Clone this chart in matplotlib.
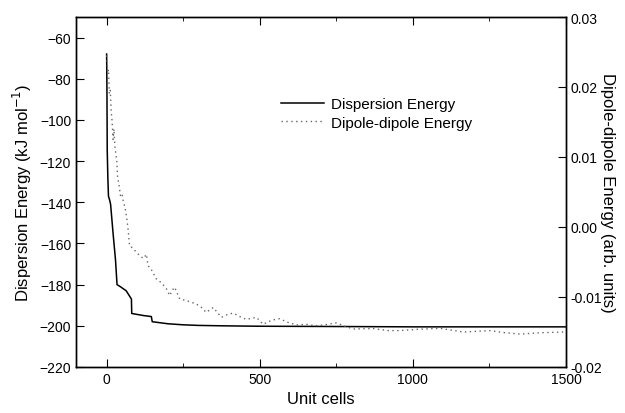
import numpy as np
import matplotlib
matplotlib.use("Agg")
import matplotlib.pyplot as plt
from matplotlib.ticker import MultipleLocator

plt.rcParams["font.family"] = ["Liberation Sans", "DejaVu Sans"]

# ── data ────────────────────────────────────────────────────────────────────
disp_cells = [0, 1, 2, 4, 6, 10, 13, 21, 29, 34, 45, 64, 81, 82, 120, 146,
              149, 200, 249, 300, 380, 500, 700, 1000, 1500]
disp_energy = [-68, -85, -115, -128, -137, -139, -141, -155, -168, -180, -181,
               -183, -187, -194, -195, -195.5, -198, -199, -199.5, -199.8,
               -200, -200.2, -200.3, -200.5, -200.5]

dip_cells = [0, 3, 6, 9, 12, 15, 18, 21, 24, 27, 30, 33, 36, 40, 45, 50, 55,
             60, 65, 70, 75, 85, 95, 108, 120, 130, 135, 145, 162, 180, 195,
             206, 215, 222, 239, 260, 293, 310, 325, 348, 375, 395, 413, 435,
             456, 489, 511, 540, 565, 590, 620, 652, 680, 707, 750, 780, 805,
             870, 920, 957, 1020, 1088, 1164, 1210, 1252, 1300, 1350, 1420,
             1497]
dip_energy = [0.0245, 0.022, 0.0225, 0.019, 0.0195, 0.0165, 0.0150, 0.0125,
              0.014, 0.0115, 0.0105, 0.0095, 0.0070, 0.0062, 0.0045, 0.0048,
              0.0035, 0.0028, 0.0015, -0.0003, -0.0027, -0.0030, -0.0035,
              -0.0041, -0.0045, -0.0039, -0.0055, -0.006, -0.0074, -0.008,
              -0.0088, -0.0098, -0.009, -0.0086, -0.0103, -0.0105, -0.011,
              -0.0115, -0.0122, -0.0115, -0.0129, -0.0125, -0.0123, -0.0128,
              -0.0132, -0.0129, -0.0139, -0.0133, -0.0131, -0.0136, -0.014,
              -0.0139, -0.0141, -0.014, -0.0137, -0.0142, -0.01457, -0.0145,
              -0.0148, -0.0148, -0.0146, -0.01447, -0.015, -0.0149, -0.0148,
              -0.0151, -0.0153, -0.0151, -0.015]

fig = plt.figure(figsize=(6.25, 4.14), dpi=100)
ax = fig.add_axes([76 / 625, 46 / 414, 490 / 625, 350 / 414])
ax2 = ax.twinx()

l1, = ax.plot(disp_cells, disp_energy, color="black", linewidth=1.1,
              label="Dispersion Energy")
l2, = ax2.plot(dip_cells, dip_energy, color="#666666", linewidth=1.0,
               linestyle=(0, (1, 2.5)), label="Dipole-dipole Energy")

ax.set_xlim(-100, 1500)
ax.set_ylim(-220, -50)
ax2.set_ylim(-0.02, 0.03)

ax.xaxis.set_major_locator(MultipleLocator(500))
ax.xaxis.set_minor_locator(MultipleLocator(250))
ax.yaxis.set_major_locator(MultipleLocator(20))
ax2.yaxis.set_major_locator(MultipleLocator(0.01))
ax2.yaxis.set_major_formatter(matplotlib.ticker.FormatStrFormatter("%.2f"))

ax.tick_params(axis="x", which="both", direction="in", top=True, labelsize=10)
ax.tick_params(axis="x", which="major", length=6)
ax.tick_params(axis="x", which="minor", length=3)
ax.tick_params(axis="y", direction="in", length=6, labelsize=10)
ax2.tick_params(axis="y", direction="in", length=6, labelsize=10)

for a in (ax, ax2):
    for s in a.spines.values():
        s.set_linewidth(1.0)

ax.set_xlabel("Unit cells", fontsize=12)
ax.set_ylabel("Dispersion Energy (kJ mol$^{-1}$)", fontsize=12)
ax2.set_ylabel("Dipole-dipole Energy (arb. units)", fontsize=12,
               rotation=270, labelpad=9)

fig.legend(handles=[l1, l2], loc="upper left",
           bbox_to_anchor=(281 / 625, 1 - 98 / 414), frameon=False,
           fontsize=11, handlelength=2.8, handletextpad=0.5,
           labelspacing=0.3, borderpad=0, borderaxespad=0)

fig.savefig("out.png", dpi=100)
